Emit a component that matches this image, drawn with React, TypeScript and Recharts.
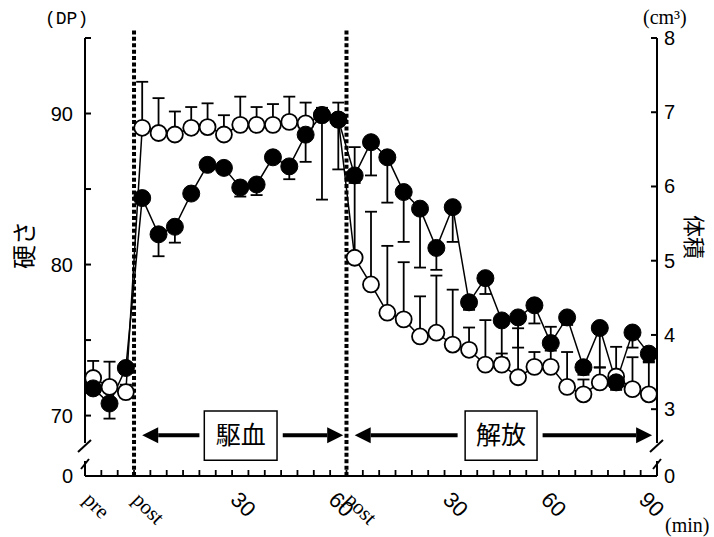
import React from "react";
import {
  ComposedChart,
  Line,
  XAxis,
  YAxis,
  ErrorBar,
  ReferenceLine,
  ReferenceArea,
} from "recharts";

// time points: 3 pre, occlusion (post..60 min), release (post..90 min), 5-min steps
const timeLabels = [
  "pre", "", "",
  "post", "", "", "", "", "", "30", "", "", "", "", "", "60",
  "post", "", "", "", "", "", "30", "", "", "", "", "", "60", "", "", "", "", "", "90",
];

// 硬さ (DP), filled circles, SD drawn downward
const hardness = [
  71.8, 70.8, 73.15,
  84.4, 82.0, 82.5, 84.7, 86.6, 86.4, 85.1, 85.3, 87.1, 86.5, 88.6, 89.9, 89.6,
  85.9, 88.1, 87.1, 84.8, 83.7, 81.1, 83.8, 77.5, 79.1, 76.3, 76.5, 77.3, 74.8, 76.5, 73.2, 75.8, 72.2, 75.5, 74.1,
];
const hardnessSD = [
  0.3, 1.0, 0.2,
  0.3, 1.45, 1.05, 0.3, 0.3, 0.3, 0.6, 0.7, 0.3, 0.85, 1.8, 5.6, 3.3,
  0.5, 2.2, 3.0, 3.3, 3.9, 1.45, 2.3, 0.5, 1.05, 2.5, 2.0, 1.2, 0.5, 0.5, 0.5, 2.6, 0.5, 1.0, 0.5,
];

// 体積 (cm3), open circles, SD drawn upward
const volume = [
  3.42, 3.3, 3.23,
  6.79, 6.72, 6.7, 6.79, 6.8, 6.7, 6.83, 6.83, 6.83, 6.87, 6.85, 6.96, 6.9,
  5.04, 4.68, 4.3, 4.21, 3.98, 4.03, 3.87, 3.8, 3.6, 3.6, 3.43, 3.57, 3.57, 3.3, 3.2, 3.36, 3.44, 3.27, 3.2,
];
const volumeSD = [
  0.23, 0.34, 0.1,
  0.62, 0.47, 0.31, 0.28, 0.32, 0.26, 0.38, 0.24, 0.28, 0.34, 0.28, 0.1, 0.23,
  1.49, 0.98, 0.9, 0.77, 0.54, 0.77, 0.74, 0.3, 0.6, 0.15, 0.66, 0.2, 0.54, 0.47, 0.2, 0.2, 0.4, 0.43, 0.43,
];

const leftTicks = [70, 75, 80, 85, 90, 95];
const rightTicks = [3, 4, 5, 6, 7, 8];

const LEFT_MIN = 66;
const LEFT_MAX = 95;
const RIGHT_MIN = 2.1;
const RIGHT_MAX = 8;
const X_MIN = -0.5;
const X_MAX = timeLabels.length - 0.5;

const data = timeLabels.map((t, i) => ({
  x: i,
  hard: hardness[i],
  vol: volume[i],
  hardErr: [hardnessSD[i], 0],
  volErr: [0, volumeSD[i]],
}));

const xTicks: number[] = [];
for (let v = X_MIN; v <= X_MAX; v += 1) xTicks.push(v);
timeLabels.forEach((t, i) => t && xTicks.push(i));

const NUM_FONT = "'Liberation Sans', Arial, sans-serif";
const SERIF = "'Liberation Serif', 'Times New Roman', serif";
const JP = "'Noto Sans CJK JP', sans-serif";

function XTick({ x, y, payload }: any) {
  const v = payload.value;
  if (v % 1 !== 0) {
    return <line x1={x} y1={y} x2={x} y2={y - 6} stroke="#000" strokeWidth={1.8} />;
  }
  const label = timeLabels[v];
  const isNum = /^\d+$/.test(label);
  const tx = x - 11;
  const ty = y + 25;
  return (
    <text
      x={tx}
      y={ty}
      transform={`rotate(45 ${tx} ${ty})`}
      fontFamily={isNum ? NUM_FONT : SERIF}
      fontSize={isNum ? 22 : 21}
      fill="#000"
    >
      {label}
    </text>
  );
}

function LeftTick({ x, y, payload }: any) {
  const v = payload.value;
  if (v === LEFT_MIN) {
    return (
      <text x={x - 12} y={y} dy={7} textAnchor="end" fontFamily={NUM_FONT} fontSize={20} fill="#000">
        0
      </text>
    );
  }
  return (
    <g>
      <line x1={x} y1={y} x2={x + 6} y2={y} stroke="#000" strokeWidth={2} />
      {v % 10 === 0 && (
        <text x={x - 12} y={y} dy={7} textAnchor="end" fontFamily={NUM_FONT} fontSize={20} fill="#000">
          {v}
        </text>
      )}
    </g>
  );
}

function RightTick({ x, y, payload }: any) {
  const v = payload.value;
  const isMin = v === RIGHT_MIN;
  return (
    <g>
      {!isMin && <line x1={x} y1={y} x2={x - 6} y2={y} stroke="#000" strokeWidth={2} />}
      <text x={x + 7} y={y} dy={7} textAnchor="start" fontFamily={NUM_FONT} fontSize={20} fill="#000">
        {isMin ? 0 : v}
      </text>
    </g>
  );
}

// vertical axis with a "//" break near the bottom
function BrokenAxis({ x1, y1, y2 }: any) {
  const b1 = y2 - 30;
  const b2 = y2 - 12;
  return (
    <g stroke="#000" strokeWidth={2} fill="none">
      <line x1={x1} y1={y1} x2={x1} y2={b1 - 3} />
      <line x1={x1 - 7} y1={b1 + 6} x2={x1 + 6} y2={b1 - 6} />
      <line x1={x1 - 4} y1={b2 + 5} x2={x1 + 4} y2={b2 - 5} />
      <line x1={x1} y1={b2 - 3} x2={x1} y2={y2} />
    </g>
  );
}

function Arrow({ x1, y1, x2, y2 }: any) {
  const dir = x2 > x1 ? 1 : -1;
  const head = 16;
  return (
    <g>
      <line x1={x1} y1={y1} x2={x2 - dir * head} y2={y2} stroke="#000" strokeWidth={4} />
      <polygon
        points={`${x2},${y2} ${x2 - dir * head},${y2 - 8} ${x2 - dir * head},${y2 + 8}`}
        fill="#000"
      />
    </g>
  );
}

const ARROW_Y = 68.7;

export default function App() {
  return (
    <div style={{ position: "absolute", left: 0, top: 0, width: 714, height: 537, background: "#fff" }}>
      <ComposedChart
        width={714}
        height={537}
        data={data}
        margin={{ top: 38, right: 0, bottom: 31, left: 25 }}
      >
        <XAxis
          type="number"
          dataKey="x"
          domain={[X_MIN, X_MAX]}
          ticks={xTicks}
          interval={0}
          height={30}
          tickSize={0}
          tickMargin={0}
          tickLine={false}
          axisLine={{ stroke: "#000", strokeWidth: 2 }}
          tick={<XTick />}
        />
        <YAxis
          yAxisId="left"
          domain={[LEFT_MIN, LEFT_MAX]}
          ticks={[LEFT_MIN, ...leftTicks]}
          allowDataOverflow
          width={60}
          tickSize={0}
          tickMargin={0}
          tickLine={false}
          axisLine={false}
          interval={0}
          tick={<LeftTick />}
        />
        <YAxis
          yAxisId="right"
          orientation="right"
          domain={[RIGHT_MIN, RIGHT_MAX]}
          ticks={[RIGHT_MIN, ...rightTicks]}
          allowDataOverflow
          width={57}
          tickSize={0}
          tickMargin={0}
          tickLine={false}
          axisLine={false}
          interval={0}
          tick={<RightTick />}
        />

        <ReferenceLine
          yAxisId="left"
          segment={[{ x: X_MIN, y: LEFT_MAX }, { x: X_MIN, y: LEFT_MIN }]}
          ifOverflow="visible"
          shape={<BrokenAxis />}
        />
        <ReferenceLine
          yAxisId="left"
          segment={[{ x: X_MAX, y: LEFT_MAX }, { x: X_MAX, y: LEFT_MIN }]}
          ifOverflow="visible"
          shape={<BrokenAxis />}
        />

        {[2.5, 15.5].map((v) => (
          <ReferenceLine
            key={v}
            yAxisId="left"
            segment={[{ x: v, y: 95.5 }, { x: v, y: LEFT_MIN }]}
            ifOverflow="visible"
            stroke="#000"
            strokeWidth={4}
            strokeDasharray="4 2.4"
          />
        ))}

        <ReferenceLine yAxisId="left" segment={[{ x: 6.5, y: ARROW_Y }, { x: 3.0, y: ARROW_Y }]} ifOverflow="visible" shape={<Arrow />} />
        <ReferenceLine yAxisId="left" segment={[{ x: 11.6, y: ARROW_Y }, { x: 15.3, y: ARROW_Y }]} ifOverflow="visible" shape={<Arrow />} />
        <ReferenceLine yAxisId="left" segment={[{ x: 22.3, y: ARROW_Y }, { x: 16.0, y: ARROW_Y }]} ifOverflow="visible" shape={<Arrow />} />
        <ReferenceLine yAxisId="left" segment={[{ x: 27.5, y: ARROW_Y }, { x: 34.2, y: ARROW_Y }]} ifOverflow="visible" shape={<Arrow />} />

        <ReferenceArea
          yAxisId="left"
          x1={6.8}
          x2={11.25}
          y1={67.05}
          y2={70.3}
          ifOverflow="visible"
          fill="#fff"
          fillOpacity={1}
          stroke="#000"
          strokeWidth={1.5}
          label={{ value: "駆血", position: "center", fontSize: 25, fill: "#000", fontFamily: JP }}
        />
        <ReferenceArea
          yAxisId="left"
          x1={22.76}
          x2={27.16}
          y1={67.05}
          y2={70.3}
          ifOverflow="visible"
          fill="#fff"
          fillOpacity={1}
          stroke="#000"
          strokeWidth={1.5}
          label={{ value: "解放", position: "center", fontSize: 25, fill: "#000", fontFamily: JP }}
        />

        {/* SD bars first, so the markers sit on top of them */}
        <Line
          yAxisId="right"
          dataKey="vol"
          stroke="none"
          dot={false}
          activeDot={false}
          isAnimationActive={false}
        >
          <ErrorBar dataKey="volErr" direction="y" width={6} stroke="#000" strokeWidth={1.8} />
        </Line>
        <Line
          yAxisId="left"
          dataKey="hard"
          stroke="none"
          dot={false}
          activeDot={false}
          isAnimationActive={false}
        >
          <ErrorBar dataKey="hardErr" direction="y" width={6} stroke="#000" strokeWidth={1.8} />
        </Line>

        <Line
          yAxisId="right"
          dataKey="vol"
          type="linear"
          stroke="#000"
          strokeWidth={1.5}
          dot={{ r: 8, fill: "#fff", stroke: "#000", strokeWidth: 1.8 }}
          activeDot={false}
          isAnimationActive={false}
        />
        <Line
          yAxisId="left"
          dataKey="hard"
          type="linear"
          stroke="#000"
          strokeWidth={1.5}
          dot={{ r: 8.5, fill: "#000", stroke: "#000", strokeWidth: 1 }}
          activeDot={false}
          isAnimationActive={false}
        />
      </ComposedChart>

      <svg
        width={714}
        height={537}
        style={{ position: "absolute", left: 0, top: 0, pointerEvents: "none" }}
      >
        <text x={45} y={24} fontFamily="'Liberation Mono', monospace" fontSize={18} fill="#000">
          (DP)
        </text>
        <text x={643} y={24} fontFamily={SERIF} fontSize={20} fill="#000">
          (cm³)
        </text>
        <text x={665} y={532} fontFamily={SERIF} fontSize={20} fill="#000">
          (min)
        </text>
        <text
          x={22}
          y={245}
          transform="rotate(-90 22 245)"
          textAnchor="middle"
          dominantBaseline="central"
          fontFamily={JP}
          fontSize={24}
          fill="#000"
        >
          硬さ
        </text>
        <text
          x={696}
          y={237}
          transform="rotate(90 696 237)"
          textAnchor="middle"
          dominantBaseline="central"
          fontFamily={JP}
          fontSize={22}
          fill="#000"
        >
          体積
        </text>
      </svg>
    </div>
  );
}
